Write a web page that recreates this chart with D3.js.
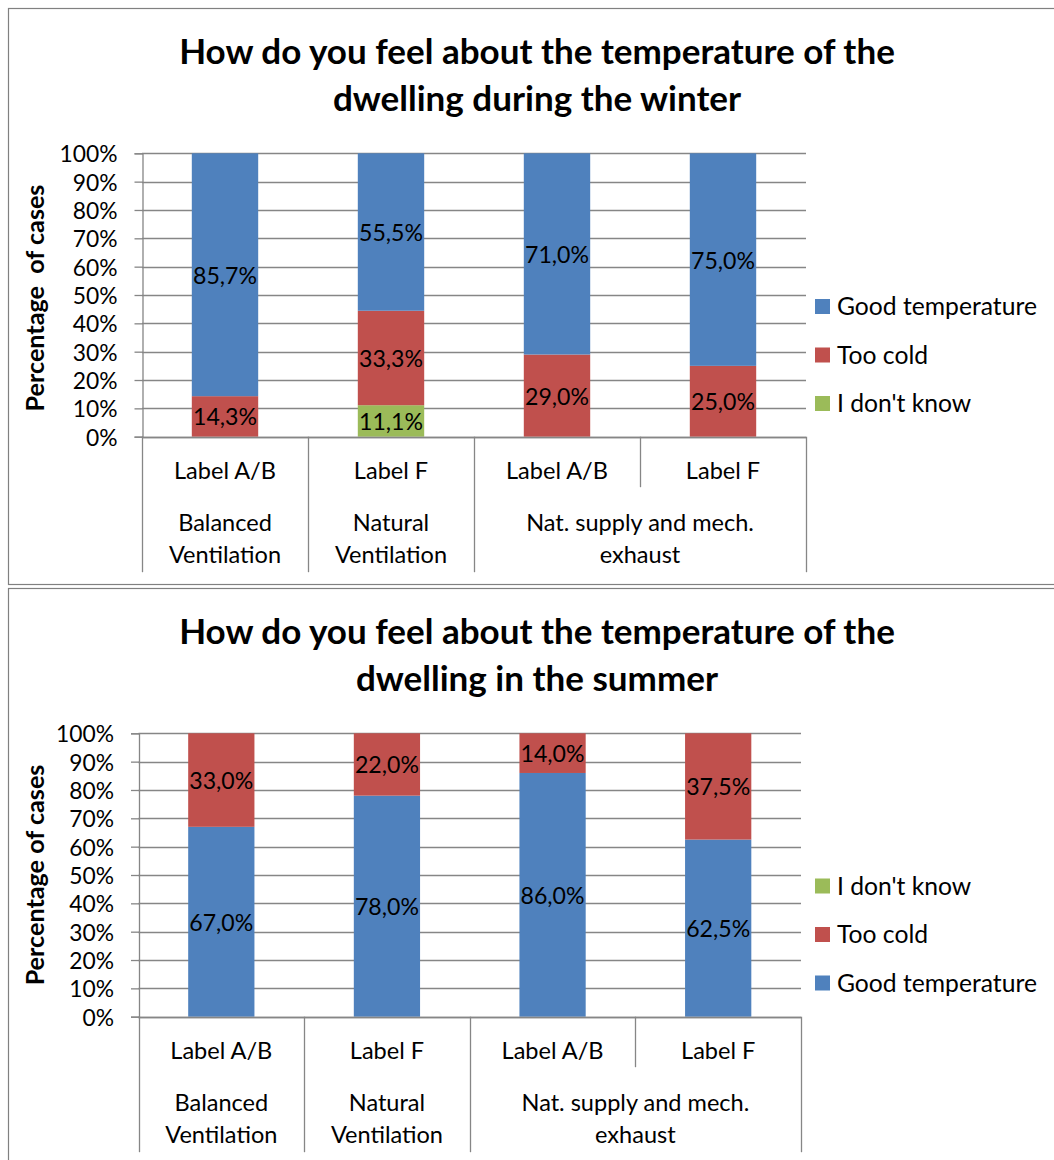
<!DOCTYPE html>
<html>
<head>
<meta charset="utf-8">
<script src="https://cdn.jsdelivr.net/npm/d3@7"></script>
<style>
  html, body { margin: 0; padding: 0; background: #ffffff; }
  svg { display: block; }
  text { font-family: Lato, "Open Sans", sans-serif; fill: #000; }
</style>
</head>
<body>
<svg id="chart" width="1054" height="1160"></svg>
<script>
// ---------------- DATA ----------------
const categories = ["Label A/B", "Label F", "Label A/B", "Label F"];
const groupLines = [["Balanced", "Ventilation"], ["Natural", "Ventilation"], ["Nat. supply and mech.", "exhaust"]];
const groupSpans = [1, 1, 2];
const seriesNames = ["Good temperature", "Too cold", "I don't know"];
const seriesColors = ["#4F81BD", "#C0504D", "#9BBB59"];

const winterGood = [85.7, 55.5, 71.0, 75.0];
const winterTooCold = [14.3, 33.3, 29.0, 25.0];
const winterDontKnow = [0, 11.1, 0, 0];

const summerGood = [67.0, 78.0, 86.0, 62.5];
const summerTooCold = [33.0, 22.0, 14.0, 37.5];
const summerDontKnow = [0, 0, 0, 0];

const yTicks = [0, 0.1, 0.2, 0.3, 0.4, 0.5, 0.6, 0.7, 0.8, 0.9, 1.0];

const winterTitle = ["How do you feel about the temperature of the", "dwelling during the winter"];
const summerTitle = ["How do you feel about the temperature of the", "dwelling in the summer"];
const winterYTitle = "Percentage  of cases";
const summerYTitle = "Percentage of cases";

// ---------------- DRAW ----------------
const svg = d3.select("#chart");
svg.append("rect").attr("width", 1054).attr("height", 1160).attr("fill", "#fff");

function measure(str, weight, size) {
  const t = svg.append("text").attr("font-weight", weight).attr("font-size", size)
    .style("white-space", "pre").text(str);
  const w = t.node().getComputedTextLength();
  t.remove();
  return w;
}
const baseSize = 100 * 102 / measure("Label A/B", "normal", 100);
const tickSize = 100 * 58 / measure("100%", "normal", 100);
const legendSize = 100 * 200 / measure("Good temperature", "normal", 100);
const labelSize = 100 * 64 / measure("14,3%", "normal", 100);
const titleSize = 100 * 716 / measure(winterTitle[0], "bold", 100);
const yTitleSize = 100 * 227 / measure(winterYTitle, "bold", 100);

const GRID = "#868686";
const fmt = v => d3.format(".1f")(v).replace(".", ",") + "%";

function panel(cfg) {
  const g = svg.append("g");
  // border
  g.append("rect").attr("x", 8.5).attr("y", cfg.boxTop + 0.5)
    .attr("width", 1100).attr("height", cfg.boxHeight)
    .attr("fill", "none").attr("stroke", "#808080").attr("stroke-width", 1.2);

  // title
  cfg.title.forEach((line, i) => {
    g.append("text").attr("x", 537).attr("y", cfg.titleBase + i * 47)
      .attr("text-anchor", "middle").attr("font-weight", "bold")
      .attr("font-size", titleSize).text(line);
  });

  const x = d3.scaleBand().domain(d3.range(categories.length))
    .range([cfg.left, cfg.right]).padding(0);
  const y = d3.scaleLinear().domain([0, 1]).range([cfg.bottom, cfg.top]);

  // gridlines
  g.append("g").selectAll("line").data(yTicks).join("line")
    .attr("x1", cfg.left).attr("x2", cfg.right)
    .attr("y1", d => Math.round(y(d)) + 0.5).attr("y2", d => Math.round(y(d)) + 0.5)
    .attr("stroke", GRID).attr("stroke-width", 1.3);

  // y axis
  const yAxis = d3.axisLeft(y).tickValues(yTicks).tickFormat(d3.format(".0%")).tickSize(8).tickPadding(17);
  const ya = g.append("g").attr("transform", `translate(${cfg.left + 0.5},0)`).call(yAxis);
  ya.select(".domain").attr("stroke", GRID).attr("stroke-width", 1.3);
  ya.selectAll(".tick line").attr("stroke", GRID).attr("stroke-width", 1.3);
  ya.selectAll(".tick text").attr("font-size", tickSize).attr("dy", null).attr("y", 8.5)
    .style("font-family", "Lato").attr("fill", "#000");

  // stacked bars
  const rows = categories.map((c, i) => {
    const r = { idx: i };
    cfg.keys.forEach(k => { r[k] = cfg.values[k][i]; });
    return r;
  });
  const stack = d3.stack().keys(cfg.keys).offset(d3.stackOffsetExpand)(rows);
  const bw = x.bandwidth() * 0.4;
  const layers = g.append("g").selectAll("g").data(stack).join("g")
    .attr("fill", d => seriesColors[seriesNames.indexOf(d.key)]);
  layers.selectAll("rect").data(d => d).join("rect")
    .attr("x", d => x(d.data.idx) + (x.bandwidth() - bw) / 2)
    .attr("width", bw)
    .attr("y", d => y(d[1]))
    .attr("height", d => y(d[0]) - y(d[1]));

  // data labels
  stack.forEach(layer => {
    layer.forEach(d => {
      const v = d.data[layer.key];
      if (!v) return;
      g.append("text")
        .attr("x", x(d.data.idx) + x.bandwidth() / 2)
        .attr("y", (y(d[0]) + y(d[1])) / 2 + 9)
        .attr("text-anchor", "middle").attr("font-size", labelSize)
        .text(fmt(v));
    });
  });

  // x axis line
  g.append("line").attr("x1", cfg.left).attr("x2", cfg.right)
    .attr("y1", Math.round(y(0)) + 0.5).attr("y2", Math.round(y(0)) + 0.5)
    .attr("stroke", GRID).attr("stroke-width", 1.3);

  // category dividers & labels
  const base = y(0);
  const groupEdges = [0];
  groupSpans.forEach((s, i) => groupEdges.push(groupEdges[i] + s));
  for (let i = 0; i <= categories.length; i++) {
    const xx = i < categories.length ? x(i) : cfg.right;
    const full = groupEdges.includes(i);
    g.append("line").attr("x1", Math.round(xx) + 0.5).attr("x2", Math.round(xx) + 0.5)
      .attr("y1", base).attr("y2", base + (full ? 135.5 : 50.5))
      .attr("stroke", GRID).attr("stroke-width", 1.3);
  }
  categories.forEach((c, i) => {
    g.append("text").attr("x", x(i) + x.bandwidth() / 2).attr("y", base + 42.5)
      .attr("text-anchor", "middle").attr("font-size", baseSize).text(c);
  });
  groupLines.forEach((lines, gi) => {
    const x0 = x(groupEdges[gi]);
    const x1 = groupEdges[gi + 1] < categories.length ? x(groupEdges[gi + 1]) : cfg.right;
    lines.forEach((ln, li) => {
      g.append("text").attr("x", (x0 + x1) / 2).attr("y", base + 94.5 + li * 31.6)
        .attr("text-anchor", "middle").attr("font-size", baseSize).text(ln);
    });
  });

  // y title
  g.append("text")
    .attr("transform", `translate(${cfg.yTitleX},${cfg.yTitleY}) rotate(-90)`)
    .attr("text-anchor", "middle").attr("font-weight", "bold")
    .attr("font-size", yTitleSize).style("white-space", "pre").text(cfg.yTitle);

  // legend
  const legendKeys = cfg.legendOrder;
  const ly = d3.scalePoint().domain(legendKeys).range([cfg.legendTop, cfg.legendTop + 97]);
  legendKeys.forEach(k => {
    g.append("rect").attr("x", 815).attr("y", ly(k) - 7.5).attr("width", 15).attr("height", 15)
      .attr("fill", seriesColors[seriesNames.indexOf(k)]);
    g.append("text").attr("x", 837).attr("y", ly(k) + 8.5)
      .attr("font-size", legendSize).text(k);
  });
}

panel({
  boxTop: 8, boxHeight: 576,
  title: winterTitle, titleBase: 64,
  left: 142, right: 806, top: 153.3, bottom: 436.7,
  keys: ["I don't know", "Too cold", "Good temperature"],
  values: { "Good temperature": winterGood, "Too cold": winterTooCold, "I don't know": winterDontKnow },
  legendOrder: ["Good temperature", "Too cold", "I don't know"],
  legendTop: 306.5,
  yTitle: winterYTitle, yTitleX: 44, yTitleY: 298
});

panel({
  boxTop: 588, boxHeight: 700,
  title: summerTitle, titleBase: 644,
  left: 138.5, right: 801, top: 733.3, bottom: 1016.7,
  keys: ["Good temperature", "Too cold", "I don't know"],
  values: { "Good temperature": summerGood, "Too cold": summerTooCold, "I don't know": summerDontKnow },
  legendOrder: ["I don't know", "Too cold", "Good temperature"],
  legendTop: 886,
  yTitle: summerYTitle, yTitleX: 44, yTitleY: 875
});
</script>
</body>
</html>
